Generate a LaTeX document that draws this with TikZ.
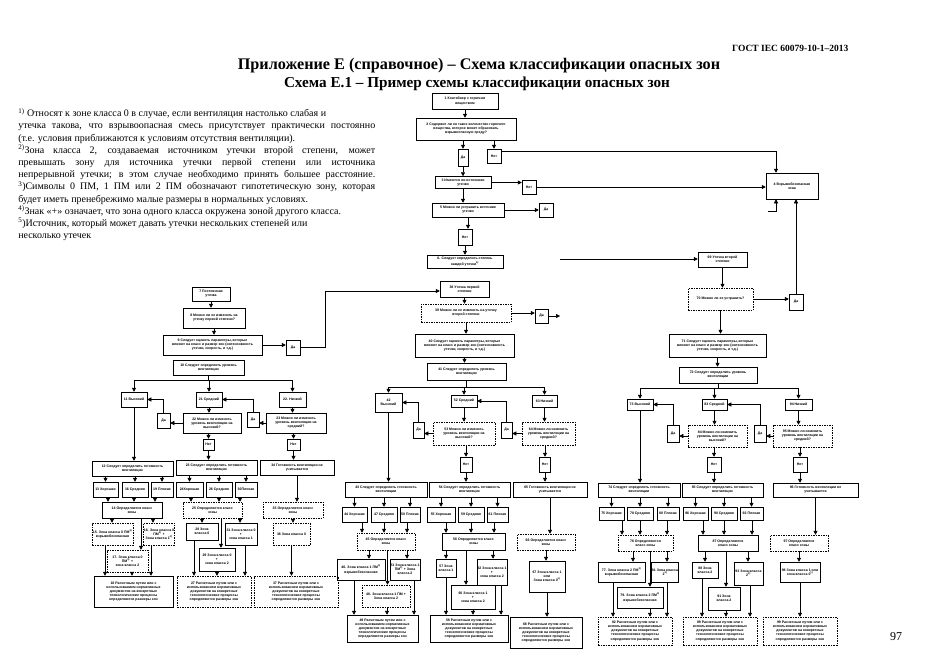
\documentclass[tikz,border=0pt]{standalone}
\usepackage{fontspec}
\setmainfont{Liberation Serif}
\setsansfont{Liberation Sans}
\usetikzlibrary{arrows.meta}
\newcommand\boxfont{\sffamily\bfseries\fontsize{3.5}{4.1}\selectfont}
\newcommand\rasch[1]{#1 Расчетным путем или с\\использованием нормативных\\документов на конкретные\\технологические процессы\\определяются размеры зон}
\newcommand\gotov[1]{#1 Следует определить готовность\\вентиляции}
\newcommand\klass[1]{#1 Определяется класс\\зоны}
\newcommand\urov[1]{#1 Следует определить уровень\\вентиляции}
\newcommand\ocen[1]{#1 Следует оценить параметры, которые\\влияют на класс и размер зон (интенсивность\\утечки, скорость, и т.д.)}
\newcommand\izmen[2]{#1 Можно ли изменить\\уровень вентиляции на\\#2?}
\begin{document}
\begin{tikzpicture}[x=1pt,y=-1pt,line width=0.5pt,
    box/.style={draw, font=\boxfont, align=center, inner sep=0.4pt},
    dbox/.style={box, dash pattern=on 1.5pt off 1pt},
    sz/.style 2 args={minimum width=#1pt, minimum height=#2pt},
    >={Triangle[length=4pt,width=4pt]}]
\useasboundingbox (0,0) rectangle (935,661);

\node[anchor=east, font=\bfseries\fontsize{9.5}{11}\selectfont] (gost) at (852,48) {ГОСТ IEC 60079-10-1–2013};
\node[font=\bfseries\fontsize{16.2}{18}\selectfont] (title1) at (479,66) {Приложение Е (справочное) – Схема классификации опасных зон};
\node[font=\bfseries\fontsize{15.2}{17}\selectfont] (title2) at (477,84) {Схема Е.1 – Пример схемы классификации опасных зон};
\node[anchor=north west, align=left, inner sep=0pt, font=\fontsize{10}{12.2}\selectfont] (notes) at (18,108) {%
\textsuperscript{1)} Относят к зоне класса 0 в случае, если вентиляция настолько слабая и\\
\makebox[357pt][s]{утечка такова, что взрывоопасная смесь присутствует практически постоянно}\\
(т.е. условия приближаются к условиям отсутствия вентиляции).\\
\makebox[357pt][s]{\textsuperscript{2)}Зона класса 2, создаваемая источником утечки второй степени, может}\\
\makebox[357pt][s]{превышать зону для источника утечки первой степени или источника}\\
\makebox[357pt][s]{непрерывной утечки; в этом случае необходимо принять большее расстояние.}\\
\makebox[357pt][s]{\textsuperscript{3})Символы 0 ПМ, 1 ПМ или 2 ПМ обозначают гипотетическую зону, которая}\\
будет иметь пренебрежимо малые размеры в нормальных условиях.\\
\textsuperscript{4)}Знак «+» означает, что зона одного класса окружена зоной другого класса.\\
\textsuperscript{5})Источник, который может давать утечки нескольких степеней или\\
несколько утечек};
\node[font=\fontsize{12}{14}\selectfont] (page) at (896,637) {97};

\node[box, sz={66}{16}] (n1) at (465,101) {1 Контейнер с горючим\\веществом};
\node[box, sz={100}{22}] (n2) at (466,129) {2 Содержит ли он такое количество горючего\\вещества, которое может образовать\\взрывоопасную среду?};
\node[box, sz={10}{17}] (n2y) at (463,157.5) {Да};
\node[box, sz={14}{14}] (n2n) at (494,156) {Нет};
\node[box, sz={56}{12}] (n3) at (463,182.5) {3 Имеются ли источники\\утечки};
\node[box, sz={14}{14}] (n3n) at (529,187) {Нет};
\node[box, sz={52}{26}] (n4) at (792,186) {4 Взрывобезопасная\\зона};
\node[box, sz={72}{14}] (n5) at (468,210) {5 Можно ли устранить источник\\утечки};
\node[box, sz={14}{14}] (n5y) at (546,210) {Да};
\node[box, sz={14}{16}] (n5n) at (465,237) {Нет};
\node[box, sz={76}{13}] (n6) at (465,261.5) {6. Следует определить степень\\каждой утечки\textsuperscript{5)}};

\node[box, sz={38}{14}] (n7) at (211,294) {7 Постоянная\\утечка};
\node[box, sz={62}{20}] (n8) at (214,318) {8 Можно ли ее изменить на\\утечку первой степени?};
\node[box, sz={99}{20}] (n9) at (212.5,345) {\ocen{9}};
\node[box, sz={14}{15}] (n9y) at (293,347.5) {Да};
\node[box, sz={71}{15}] (n10) at (208.5,367.5) {\urov{10}};
\node[box, sz={26}{15}] (n11) at (134,399.5) {11 Высокий};
\node[box, sz={26}{15}] (n21) at (209,399.5) {21 Средний};
\node[box, sz={27}{15}] (n22) at (292.5,399.5) {22. Низкий};
\node[box, sz={13}{15}] (n11y) at (163.5,420.5) {Да};
\node[box, sz={58}{20}] (q22) at (212,423) {\izmen{22}{высокий}};
\node[box, sz={12}{15}] (n21y) at (253,419.5) {Да};
\node[box, sz={60}{20}] (q23) at (296,423) {\izmen{23}{средний}};
\node[box, sz={11}{11}] (n22n) at (208.5,444.5) {Нет};
\node[box, sz={13}{11}] (n23n) at (293.5,444.5) {Нет};
\node[box, sz={81}{15}] (n12) at (132.5,468.5) {\gotov{12}};
\node[box, sz={81}{15}] (n23) at (216.5,467.5) {\gotov{23}};
\node[box, sz={74}{15}] (n34) at (297,467.5) {34 Готовность вентиляции не\\учитывается};
\node[box, sz={25}{15}] (n13) at (105.5,489.5) {13 Хорошая};
\node[box, sz={26}{15}] (n16) at (135,489.5) {16 Средняя};
\node[box, sz={22}{15}] (n19) at (162,489.5) {19 Плохая};
\node[box, sz={27}{15}] (n24) at (189.5,489.5) {24Хорошая};
\node[box, sz={26}{15}] (n26) at (219,489.5) {26 Средняя};
\node[box, sz={22}{15}] (n30) at (246,489.5) {30Плохая};
\node[box, sz={60}{16}] (n14) at (132,510) {\klass{14}};
\node[dbox, sz={59}{16}] (n25) at (212.5,510) {\klass{25}};
\node[dbox, sz={60}{16}] (n35) at (293,510) {\klass{35}};
\node[dbox, sz={41}{22}] (n15) at (112.5,534) {15. Зона класса 0 ПМ\textsuperscript{3)}\\взрывобезопасная};
\node[dbox, sz={30}{22}] (n16z) at (159,534) {16. Зона класса 0\\ПМ\textsuperscript{3)} +\\Зона класса 1\textsuperscript{4)}};
\node[box, sz={32}{17}] (n28) at (202,531.5) {28 Зона\\класса 0};
\node[box, sz={32}{22}] (n31) at (241,534) {31 Зона класса 0\\+\\зона класса 1};
\node[dbox, sz={37}{22}] (n36) at (291.5,534) {36 Зона класса 0};
\node[dbox, sz={41}{22}] (n17) at (127.5,561) {17. Зона класса 0\\ПМ\textsuperscript{3)} +\\зона класса 2};
\node[box, sz={36}{23}] (n29) at (217,559.5) {29 Зона класса 0\\+\\зона класса 2};
\node[box, sz={79}{31}] (n18) at (133.5,591.5) {\rasch{18}};
\node[dbox, sz={74}{31}] (n27) at (214,591.5) {\rasch{27}};
\node[dbox, sz={84}{31}] (n37) at (296,591.5) {\rasch{37}};

\node[box, sz={49}{16}] (n38) at (464.5,289) {38 Утечка первой\\степени};
\node[dbox, sz={90}{18}] (n39) at (466,313) {39 Можно ли ее изменить на утечку\\второй степени};
\node[box, sz={13}{14}] (n39y) at (541.5,316) {Да};
\node[box, sz={99}{23}] (n40) at (464.5,345.5) {\ocen{40}};
\node[box, sz={79}{17}] (n41) at (466.5,371.5) {\urov{41}};
\node[box, sz={27}{19}] (n42) at (388.5,402.5) {42\\Высокий};
\node[box, sz={26}{12}] (n52) at (464,401) {52 Средний};
\node[box, sz={25}{12}] (n63) at (544.5,401) {63 Низкий};
\node[box, sz={11}{16}] (n42y) at (418.5,430) {Да};
\node[dbox, sz={62}{23}] (n53) at (464,433.5) {\izmen{53}{высокий}};
\node[box, sz={11}{16}] (n52y) at (506.5,430) {Да};
\node[dbox, sz={53}{23}] (n64) at (548.5,433.5) {\izmen{64}{средний}};
\node[box, sz={12}{15}] (n53n) at (466,464.5) {Нет};
\node[box, sz={11}{15}] (n64n) at (545,464.5) {Нет};
\node[box, sz={82}{15}] (n43) at (386,489.5) {\gotov{43}};
\node[box, sz={81}{15}] (n54) at (469.5,489.5) {\gotov{54}};
\node[box, sz={74}{15}] (n65) at (550,489.5) {65 Готовность вентиляции не\\учитывается};
\node[box, sz={25}{15}] (n44) at (354.5,514.5) {44 Хорошая};
\node[box, sz={26}{15}] (n47) at (384,514.5) {47 Средняя};
\node[box, sz={20}{15}] (n50) at (410,514.5) {50 Плохая};
\node[box, sz={28}{15}] (n55) at (441,514.5) {55 Хорошая};
\node[box, sz={26}{15}] (n59) at (471,514.5) {59 Средняя};
\node[box, sz={21}{15}] (n61) at (497.5,514.5) {61 Плохая};
\node[dbox, sz={58}{17}] (n45) at (386,541.5) {\klass{45}};
\node[box, sz={63}{17}] (n56) at (473.5,541.5) {\klass{56}};
\node[dbox, sz={58}{16}] (n66) at (546,542) {\klass{66}};
\node[box, sz={48}{21}] (n46) at (361,569.5) {46. Зона класса 1 ПМ\textsuperscript{3)}\\взрывобезопасная};
\node[box, sz={30}{21}] (n51) at (405,569.5) {51 Зона класса 1\\ПМ\textsuperscript{3)} + Зона\\класса 2};
\node[box, sz={20}{18}] (n57) at (446,568) {57 Зона\\класса 1};
\node[box, sz={30}{26}] (n62) at (492,572) {62 Зона класса 1\\+\\зона класса 2};
\node[box, sz={36}{31}] (n67) at (547,576.5) {67 Зона класса 1\\или\\Зона класса 0\textsuperscript{1)}};
\node[dbox, sz={48}{22}] (n48) at (386,596) {48. Зона класса 1 ПМ +\\Зона класса 2};
\node[box, sz={44}{24}] (n60) at (473,597) {60 Зона класса 1\\+\\зона класса 2};
\node[box, sz={71}{27}] (n49) at (382.5,628.5) {\rasch{49}};
\node[box, sz={78}{27}] (n58) at (469,628.5) {\rasch{58}};
\node[box, sz={72}{31}] (n68) at (546,632.5) {\rasch{68}};

\node[box, sz={49}{15}] (n69) at (722.5,259.5) {69 Утечка второй\\степени};
\node[dbox, sz={65}{22}] (n70) at (720.5,299) {70 Можно ли ее устранить?};
\node[box, sz={14}{16}] (n70y) at (796,302) {Да};
\node[box, sz={97}{23}] (n71) at (717.5,345.5) {\ocen{71}};
\node[box, sz={78}{16}] (n72) at (718,375) {\urov{72}};
\node[box, sz={26}{11}] (n73) at (640,404.5) {73 Высокий};
\node[box, sz={25}{11}] (n83) at (714.5,404.5) {83 Средний};
\node[box, sz={27}{11}] (n94) at (798.5,404.5) {94 Низкий};
\node[box, sz={12}{17}] (n73y) at (673,433.5) {Да};
\node[dbox, sz={59}{22}] (n84) at (717.5,436) {\izmen{84}{высокий}};
\node[box, sz={12}{17}] (n83y) at (760,433.5) {Да};
\node[dbox, sz={59}{22}] (n95) at (802.5,436) {\izmen{95}{средний}};
\node[box, sz={14}{15}] (n84n) at (714,464.5) {Нет};
\node[box, sz={14}{15}] (n95n) at (800,464.5) {Нет};
\node[box, sz={82}{14}] (n74) at (639,490) {\gotov{74}};
\node[box, sz={81}{14}] (n85) at (722.5,490) {\gotov{85}};
\node[box, sz={85}{14}] (n96) at (815.5,490) {96 Готовность вентиляции не\\учитывается};
\node[box, sz={25}{13}] (n75) at (611.5,513.5) {75 Хорошая};
\node[box, sz={26}{13}] (n78) at (640,513.5) {78 Средняя};
\node[box, sz={22}{13}] (n80) at (668,513.5) {80 Плохая};
\node[box, sz={25}{13}] (n86) at (695.5,513.5) {86 Хорошая};
\node[box, sz={26}{13}] (n90) at (724,513.5) {90 Средняя};
\node[box, sz={23}{13}] (n92) at (751.5,513.5) {92 Плохая};
\node[dbox, sz={55}{16}] (n76) at (645.5,543) {76 Определяются\\класс зоны};
\node[box, sz={60}{16}] (n87) at (728,543) {87 Определяются\\класс зоны};
\node[dbox, sz={58}{16}] (n97) at (799,543) {97 Определяются\\класс зоны};
\node[box, sz={47}{20}] (n77) at (621.5,572) {77. Зона класса 2 ПМ\textsuperscript{3)}\\взрывобезопасная};
\node[box, sz={25}{20}] (n81) at (665,572) {81 Зона класса\\2\textsuperscript{2)}};
\node[box, sz={26}{16}] (n88) at (705,570) {88 Зона\\класса 2};
\node[box, sz={29}{23}] (n93) at (748.5,573.5) {93 Зона класса\\2\textsuperscript{2)}};
\node[box, sz={40}{20}] (n98) at (800,572) {98 Зона класса 1 или\\зона класса 0\textsuperscript{1)}};
\node[box, sz={46}{21}] (n79) at (640,597.5) {79. Зона класса 2 ПМ\textsuperscript{3)}\\взрывобезопасная};
\node[box, sz={32}{23}] (n91) at (724,598.5) {91 Зона\\класса 2};
\node[dbox, sz={74}{28}] (n82) at (635,631) {\rasch{82}};
\node[dbox, sz={74}{28}] (n89) at (720,631) {\rasch{89}};
\node[dbox, sz={74}{28}] (n99) at (800,631) {\rasch{99}};

\coordinate (s4) at (768,211);
\coordinate (s39) at (560,316);
\coordinate (s69) at (560,259);
\coordinate (c38) at (325,291);

\draw[->] (n1) -- (n1 |- n2.north); \draw[->] (n2y |- n2.south) -- (n2y); \draw[->] (n2n |- n2.south) -- (n2n);
\draw[->] (n2y) -- (n2y |- n3.north); \draw[->] (n3) -- (n3 -| n3n.west); \draw[->] (n3) -- (n3 |- n5.north);
\draw[->] (n5) -- (n5 -| n5y.west); \draw[->] (n5) -- (n5 |- n5n.north); \draw[->] (n5n) -- (n5n |- n6.north);
\draw[->] ([yshift=5pt]n2n.east) -| ([xshift=-16pt]n4.north); \draw[->] (n3n) -- (n3n -| n4.west);
\draw[->] (s4) -| ([xshift=-16pt]n4.south); \draw[->] (s69) -- (s69 -| n69.west);

\draw[->] (n7) -- (n7 |- n8.north); \draw[->] (n8) -- (n8 |- n9.north); \draw[->] (n9) -- (n9 -| n9y.west);
\draw[->] (n9y) -| (c38) -- (c38 -| n38.west);
\draw[->] (n10.south) -- ++(0,5) -| (n11.north); \draw[->] (n10.south) -- ++(0,5) -| (n21.north); \draw[->] (n10.south) -- ++(0,5) -| (n22.north);
\draw[->] (n11y.north) |- (n11.east); \draw[->] (q22.west) -- (q22.west -| n11y.east);
\draw[->] (n21y.north) |- (n21.east); \draw[->] (q23.west) -- (q23.west -| n21y.east);
\draw[->] (n21) -- (n21 |- q22.north); \draw[->] (n22) -- (n22 |- q23.north);
\draw[->] (n22n |- q22.south) -- (n22n); \draw[->] (n23n |- q23.south) -- (n23n);
\draw[->] (n11) -- (n11 |- n12.north); \draw[->] (n22n) -- (n22n |- n23.north); \draw[->] (n23n) -- (n23n |- n34.north);
\draw[->] (n13 |- n12.south) -- (n13); \draw[->] (n16 |- n12.south) -- (n16); \draw[->] (n19 |- n12.south) -- (n19);
\draw[->] (108,0 |- n13.south) -- (108,0 |- n14.north); \draw[->] (134,0 |- n16.south) -- (134,0 |- n14.north); \draw[->] (155,0 |- n19.south) -- (155,0 |- n14.north);
\draw[->] (n24 |- n23.south) -- (n24); \draw[->] (n26 |- n23.south) -- (n26); \draw[->] (n30 |- n23.south) -- (n30);
\draw[->] (191,0 |- n24.south) -- (191,0 |- n25.north); \draw[->] (219,0 |- n26.south) -- (219,0 |- n25.north); \draw[->] (240,0 |- n30.south) -- (240,0 |- n25.north);
\draw[->] (n34) -- (n34 |- n35.north); \draw[->] (n35) -- (n35 |- n36.north); \draw[->] (n36) -- (n36 |- n37.north);
\draw[->] (112,0 |- n14.south) -- (112,0 |- n15.north); \draw[->] (141,0 |- n14.south) -- (141,0 |- n17.north); \draw[->] (153,0 |- n14.south) -- (153,0 |- n16z.north);
\draw[->] (105,0 |- n15.south) -- (105,0 |- n18.north); \draw[->] (132,0 |- n17.south) -- (132,0 |- n18.north); \draw[->] (151,0 |- n16z.south) -- (151,0 |- n18.north);
\draw[->] (202,0 |- n25.south) -- (202,0 |- n28.north); \draw[->] (221,0 |- n25.south) -- (221,0 |- n29.north); \draw[->] (240,0 |- n25.south) -- (240,0 |- n31.north);
\draw[->] (194,0 |- n28.south) -- (194,0 |- n27.north); \draw[->] (217,0 |- n29.south) -- (217,0 |- n27.north); \draw[->] (245,0 |- n31.south) -- (245,0 |- n27.north);

\draw[->] (n38) -- (n38 |- n39.north); \draw[->] (n39) -- (n39 -| n39y.west); \draw[->] (n39y) -- (s39);
\draw[->] (n39) -- (n39 |- n40.north); \draw[->] (n40) -- (n40 |- n41.north);
\draw[->] (n41.south) -- ++(0,7) -| (n42.north); \draw[->] (n41.south) -- ++(0,7) -| (n52.north); \draw[->] (n41.south) -- ++(0,7) -| (n63.north);
\draw[->] (n42y.north) |- (n42.east); \draw[->] (n53.west) -- (n53.west -| n42y.east);
\draw[->] (n52y.north) |- (n52.east); \draw[->] (n64.west) -- (n64.west -| n52y.east);
\draw[->] (n52) -- (n52 |- n53.north); \draw[->] (n63) -- (n63 |- n64.north);
\draw[->] (n53n |- n53.south) -- (n53n); \draw[->] (n64n |- n64.south) -- (n64n);
\draw[->] (n42) -- (n42 |- n43.north); \draw[->] (n53n) -- (n53n |- n54.north); \draw[->] (n64n) -- (n64n |- n65.north);
\draw[->] (n44 |- n43.south) -- (n44); \draw[->] (n47 |- n43.south) -- (n47); \draw[->] (n50 |- n43.south) -- (n50);
\draw[->] (n55 |- n54.south) -- (n55); \draw[->] (n59 |- n54.south) -- (n59); \draw[->] (n61 |- n54.south) -- (n61);
\draw[->] (362,0 |- n44.south) -- (362,0 |- n45.north); \draw[->] (384,0 |- n47.south) -- (384,0 |- n45.north); \draw[->] (407,0 |- n50.south) -- (407,0 |- n45.north);
\draw[->] (446,0 |- n55.south) -- (446,0 |- n56.north); \draw[->] (471,0 |- n59.south) -- (471,0 |- n56.north); \draw[->] (494,0 |- n61.south) -- (494,0 |- n56.north);
\draw[->] (n65) -- (n65 |- n66.north); \draw[->] (n66) -- (n66 |- n67.north); \draw[->] (n67) -- (n67 |- n68.north);
\draw[->] (369,0 |- n45.south) -- (369,0 |- n46.north); \draw[->] (387.5,0 |- n45.south) -- (387.5,0 |- n48.north); \draw[->] (407,0 |- n45.south) -- (407,0 |- n51.north);
\draw[->] (354,0 |- n46.south) -- (354,0 |- n49.north); \draw[->] (387,0 |- n48.south) -- (387,0 |- n49.north); \draw[->] (414,0 |- n51.south) -- (414,0 |- n49.north);
\draw[->] (446,0 |- n56.south) -- (446,0 |- n57.north); \draw[->] (466,0 |- n56.south) -- (466,0 |- n60.north); \draw[->] (493,0 |- n56.south) -- (493,0 |- n62.north);
\draw[->] (446,0 |- n57.south) -- (446,0 |- n58.north); \draw[->] (473,0 |- n60.south) -- (473,0 |- n58.north); \draw[->] (501,0 |- n62.south) -- (501,0 |- n58.north);

\draw[->] (n69) -- (n69 |- n70.north); \draw[->] (n70) -- (n70 -| n70y.west); \draw[->] (n70y) -- (n70y |- n4.south);
\draw[->] (n70) -- (n70 |- n71.north); \draw[->] (n71) -- (n71 |- n72.north);
\draw[->] (n72.south) -- ++(0,5) -| (n73.north); \draw[->] (n72.south) -- ++(0,5) -| (n83.north); \draw[->] (n72.south) -- ++(0,5) -| (n94.north);
\draw[->] (n73y.north) |- (n73.east); \draw[->] (n84.west) -- (n84.west -| n73y.east);
\draw[->] (n83y.north) |- (n83.east); \draw[->] (n95.west) -- (n95.west -| n83y.east);
\draw[->] (n83) -- (n83 |- n84.north); \draw[->] (n94) -- (n94 |- n95.north);
\draw[->] (n84n |- n84.south) -- (n84n); \draw[->] (n95n |- n95.south) -- (n95n);
\draw[->] (n73) -- (n73 |- n74.north); \draw[->] (n84n) -- (n84n |- n85.north); \draw[->] (n95n) -- (n95n |- n96.north);
\draw[->] (n75 |- n74.south) -- (n75); \draw[->] (n78 |- n74.south) -- (n78); \draw[->] (n80 |- n74.south) -- (n80);
\draw[->] (n86 |- n85.south) -- (n86); \draw[->] (n90 |- n85.south) -- (n90); \draw[->] (n92 |- n85.south) -- (n92);
\draw[->] (622,0 |- n75.south) -- (622,0 |- n76.north); \draw[->] (640,0 |- n78.south) -- (640,0 |- n76.north); \draw[->] (667,0 |- n80.south) -- (667,0 |- n76.north);
\draw[->] (703,0 |- n86.south) -- (703,0 |- n87.north); \draw[->] (724,0 |- n90.south) -- (724,0 |- n87.north); \draw[->] (752,0 |- n92.south) -- (752,0 |- n87.north);
\draw[->] (n96) -- (n96 |- n97.north); \draw[->] (n97) -- (n97 |- n98.north); \draw[->] (n98) -- (n98 |- n99.north);
\draw[->] (633,0 |- n76.south) -- (633,0 |- n77.north); \draw[->] (650,0 |- n76.south) -- (650,0 |- n79.north); \draw[->] (667,0 |- n76.south) -- (667,0 |- n81.north);
\draw[->] (613,0 |- n77.south) -- (613,0 |- n82.north); \draw[->] (650,0 |- n79.south) -- (650,0 |- n82.north); \draw[->] (667,0 |- n81.south) -- (667,0 |- n82.north);
\draw[->] (705,0 |- n87.south) -- (705,0 |- n88.north); \draw[->] (726,0 |- n87.south) -- (726,0 |- n91.north); \draw[->] (748,0 |- n87.south) -- (748,0 |- n93.north);
\draw[->] (702,0 |- n88.south) -- (702,0 |- n89.north); \draw[->] (726,0 |- n91.south) -- (726,0 |- n89.north); \draw[->] (750,0 |- n93.south) -- (750,0 |- n89.north);
\end{tikzpicture}
\end{document}
